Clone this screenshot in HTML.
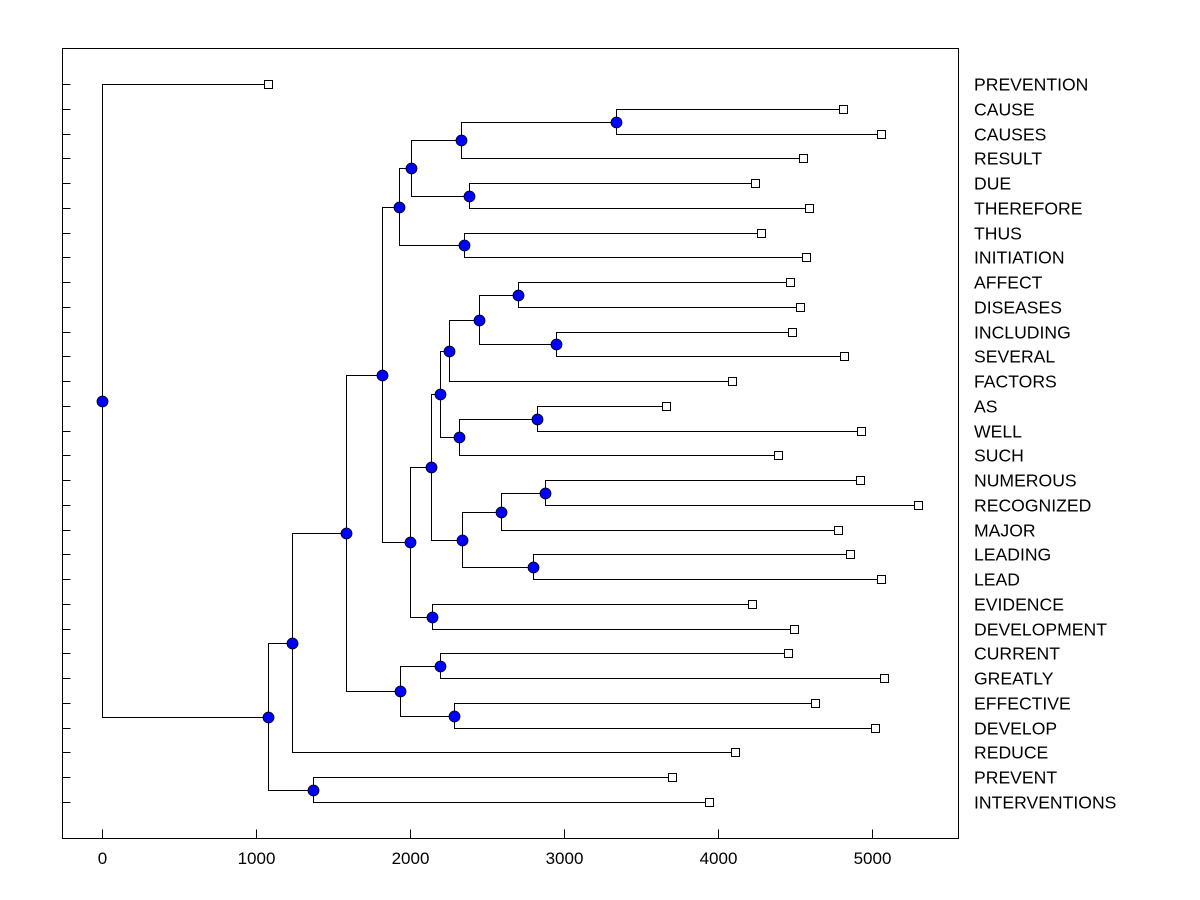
<!DOCTYPE html>
<html><head><meta charset="utf-8"><style>
html,body{margin:0;padding:0;background:#fff;}
svg{display:block;font-family:"Liberation Sans",Arial,sans-serif;}
</style></head><body>
<svg id="chart" width="1200" height="900" viewBox="0 0 1200 900" shape-rendering="crispEdges"></svg>
<script>
// leaf labels (top to bottom) and their merge heights
const leafLabels = ["PREVENTION","CAUSE","CAUSES","RESULT","DUE","THEREFORE","THUS","INITIATION","AFFECT","DISEASES","INCLUDING","SEVERAL","FACTORS","AS","WELL","SUCH","NUMEROUS","RECOGNIZED","MAJOR","LEADING","LEAD","EVIDENCE","DEVELOPMENT","CURRENT","GREATLY","EFFECTIVE","DEVELOP","REDUCE","PREVENT","INTERVENTIONS"];
const leafValues = [1078,4812,5058,4552,4240,4591,4279,4571,4468,4532,4481,4818,4091,3662,4929,4390,4922,5299,4779,4857,5058,4221,4494,4455,5078,4630,5019,4110,3701,3942];
// internal nodes: [childA, childB] (leaf index number, or "n"+node index), and heights
const nodeChildren = [
 [1,2],["n0",3],[4,5],["n1","n2"],[6,7],["n3","n4"],
 [8,9],[10,11],["n6","n7"],["n8",12],[13,14],["n10",15],["n9","n11"],
 [16,17],["n13",18],[19,20],["n14","n15"],["n12","n16"],[21,22],["n17","n18"],
 ["n5","n19"],[23,24],[25,26],["n21","n22"],["n20","n23"],["n24",27],[28,29],["n25","n26"],[0,"n27"]
];
const nodeValues = [3338,2331,2383,2006,2351,1929,2701,2948,2448,2253,2825,2318,2195,2877,2591,2799,2338,2136,2143,2000,1818,2195,2286,1935,1584,1234,1370,1078,0];
const xTicks = [0,1000,2000,3000,4000,5000];

const svg = document.getElementById('chart');
const NS = "http://www.w3.org/2000/svg";
const L=62.5,R=958.5,T=48.5,B=838.5;
const xs = v => Math.round(102 + v*0.154) + 0.5;
const ys = i => Math.round(84 + i*(802-84)/(leafLabels.length-1)) + 0.5;
function mk(tag, attrs){const e=document.createElementNS(NS,tag);for(const k in attrs)e.setAttribute(k,attrs[k]);svg.appendChild(e);return e;}

const frame = mk('rect',{x:L,y:T,width:R-L,height:B-T,fill:'none',stroke:'#000','stroke-width':1});



xTicks.forEach(t=>{
  const ln = mk('line',{x1:xs(t),x2:xs(t),y1:B,y2:B-9,stroke:'#000'});
  
  
  const tx = mk('text',{x:xs(t),y:864,'text-anchor':'middle','font-size':17});
  tx.textContent = t;
  
  
});

leafLabels.forEach((lab,i)=>{
  const ln = mk('line',{x1:L,x2:L+8,y1:ys(i),y2:ys(i),stroke:'#000'});
  
  
  const tx = mk('text',{x:974,y:ys(i)+6,'font-size':17.6});
  tx.textContent = lab;
  
  
});

const nodePos = [];
function pos(c){
  if (typeof c === 'number') return {x:xs(leafValues[c]), y:ys(c)};
  return nodePos[parseInt(c.slice(1))];
}
nodeChildren.forEach((ch,k)=>{
  const a=pos(ch[0]), b=pos(ch[1]);
  nodePos[k] = {x:xs(nodeValues[k]), y:Math.round((a.y+b.y)/2 - 0.5) + 0.5};
});
const dots = [];
nodeChildren.forEach((ch,k)=>{
  const p = nodePos[k];
  const a=pos(ch[0]), b=pos(ch[1]);
  const path = mk('path',{d:`M${a.x},${a.y}H${p.x}V${b.y}H${b.x}`,fill:'none',stroke:'#000','stroke-width':1});
  
  
  dots.push(p);
});
leafLabels.forEach((lab,i)=>{
  const r = mk('rect',{x:xs(leafValues[i])-4,y:ys(i)-4,width:8,height:8,fill:'#fff',stroke:'#000'});
  
  
});
dots.forEach(p=>{
  const c = mk('circle',{cx:p.x,cy:p.y,r:5.5,fill:'#0000ff',stroke:'#000','stroke-width':0.8,'shape-rendering':'auto'});
  
  
});
</script>
</body></html>
